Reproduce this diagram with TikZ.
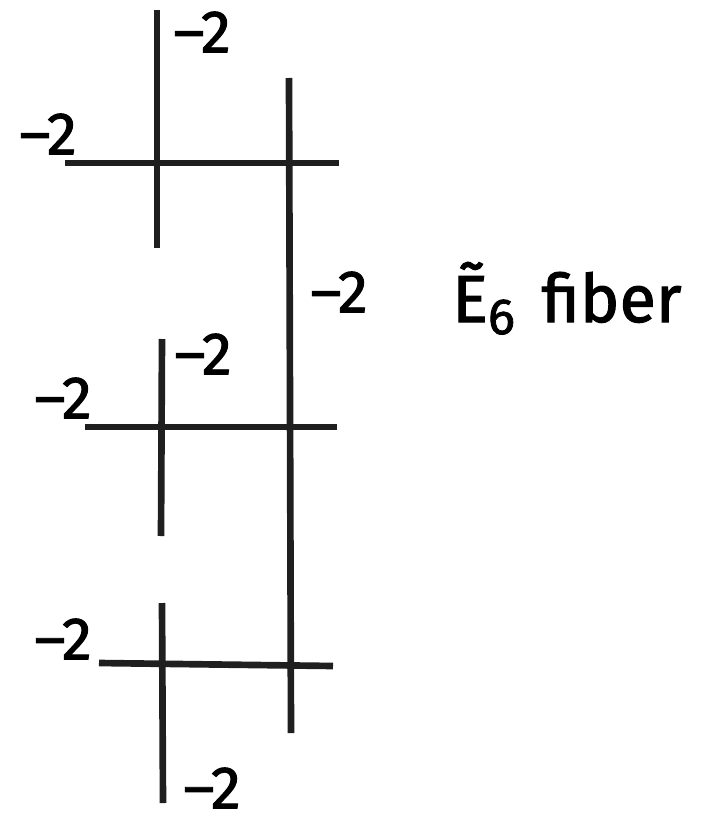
\documentclass[tikz,border=0pt]{standalone}
\usepackage{fontspec}
\setmainfont{Fira Sans}[BoldFont=Fira Sans,BoldFeatures={FakeBold=1.6}]
\usepackage{tikz}
\usetikzlibrary{positioning}

\begin{document}
\begin{tikzpicture}[
  x=0.75pt,y=-0.75pt,
  curve/.style={draw=black!88,line width=5pt},
  self/.style={font=\fontsize{45}{47}\selectfont\bfseries,inner sep=0pt}
]
  \useasboundingbox (0,0) rectangle (703,820);
  % curve ends
  \coordinate (Ltop) at (289,78);
  \coordinate (Lbot) at (291,733);
  \coordinate (atop) at (157,10);
  \coordinate (abot) at (157,248);
  \coordinate (aleft) at (65,163);
  \coordinate (aright) at (339,163);
  \coordinate (btop) at (162,339);
  \coordinate (bbot) at (161,536);
  \coordinate (bleft) at (85,427);
  \coordinate (bright) at (337,427);
  \coordinate (ctop) at (162,603);
  \coordinate (cbot) at (163,803);
  \coordinate (cleft) at (99,663);
  \coordinate (cright) at (333,666);
  \draw[curve] (Ltop) -- (Lbot);
  \draw[curve] (atop) -- (abot);
  \draw[curve] (aleft) -- (aright);
  \draw[curve] (btop) -- (bbot);
  \draw[curve] (bleft) -- (bright);
  \draw[curve] (ctop) -- (cbot);
  \draw[curve] (cleft) -- (cright);
  % self-intersections
  \node[self] (sa) at (202,32) {--2};
  \node[self] (sb) at (48,134) {--2};
  \node[self] (sL) at (339,292) {--2};
  \node[self] (sc) at (203,354) {--2};
  \node[self] (sd) at (63,398) {--2};
  \node[self] (se) at (63,639) {--2};
  \node[self] (sf) at (212,788) {--2};
  \node[font=\fontsize{50}{52}\selectfont\bfseries,inner sep=0pt,anchor=base west] (fib) at (452,322)
    {Ẽ\raisebox{-0.18em}{\fontsize{38}{40}\selectfont 6}\hspace{0.4em}fiber};
\end{tikzpicture}
\end{document}
